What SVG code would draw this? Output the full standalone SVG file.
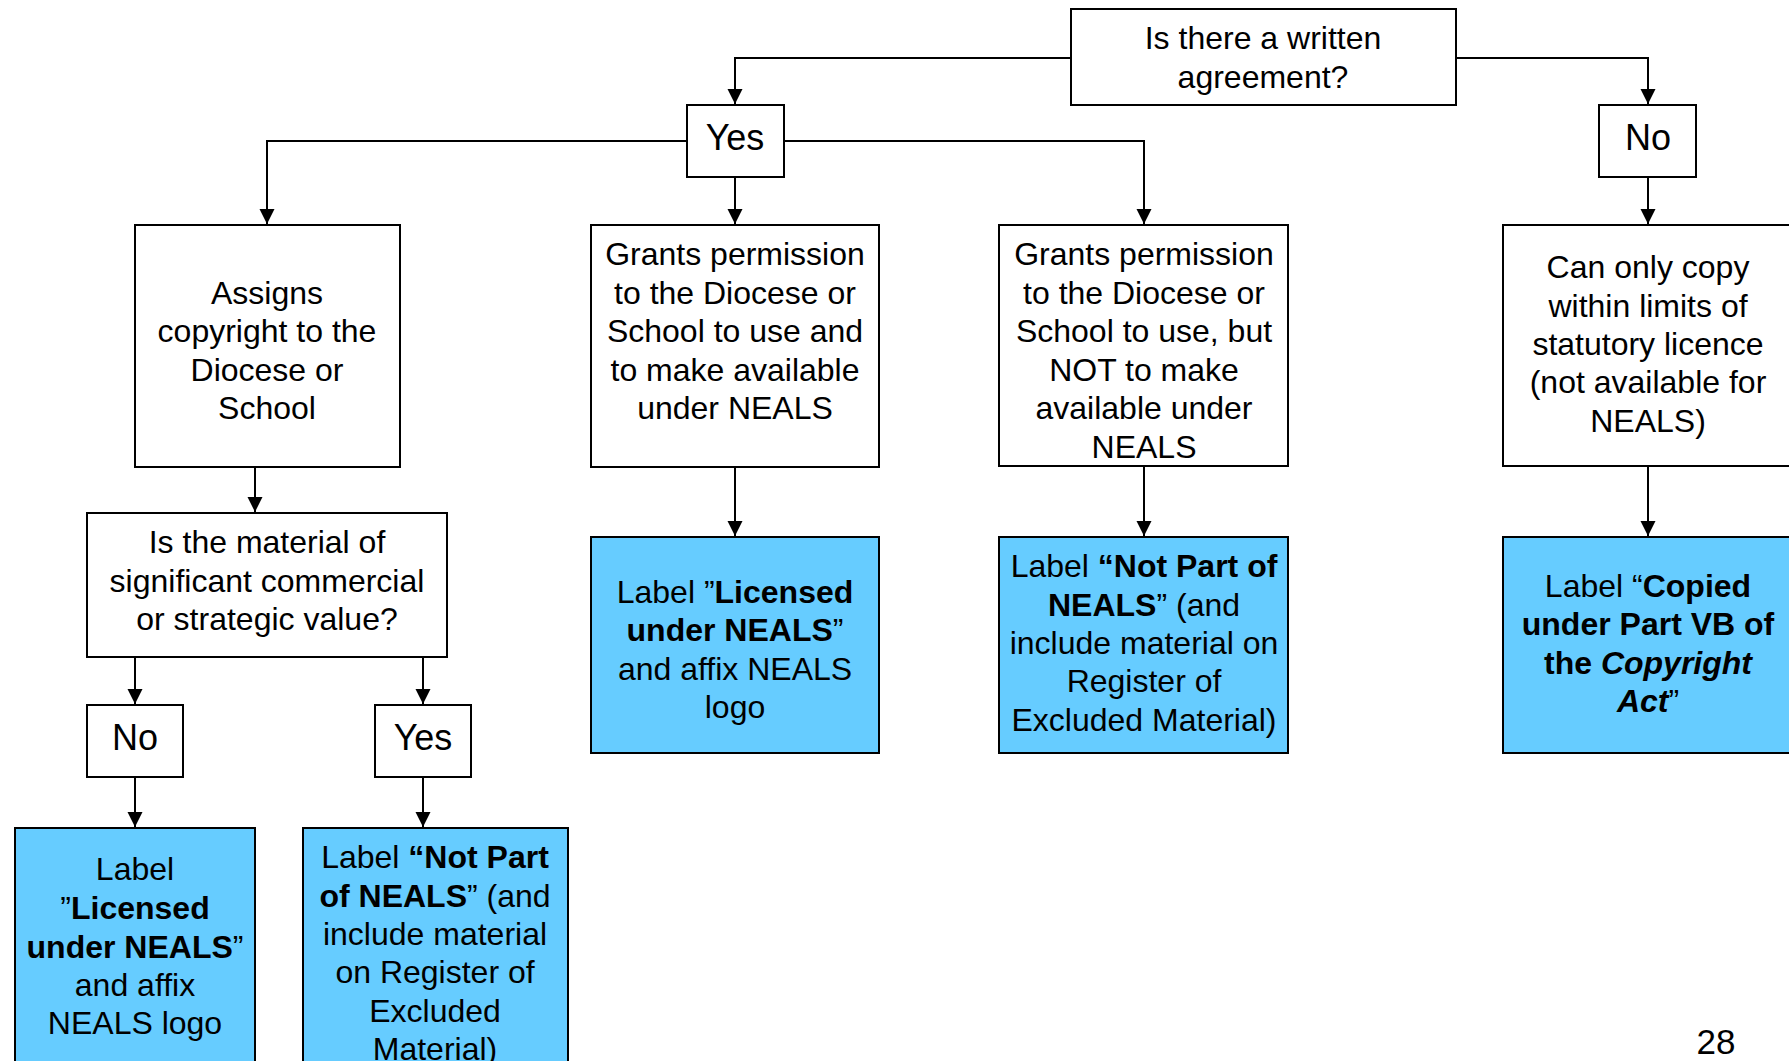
<svg xmlns="http://www.w3.org/2000/svg" width="1789" height="1061" viewBox="0 0 1789 1061">
<style>
.box{fill:#ffffff;stroke:#000000;stroke-width:2}
.blue{fill:#66CCFF;stroke:#000000;stroke-width:2}
.t{font-family:"Liberation Sans",Arial,sans-serif;font-size:32px;fill:#000000;text-anchor:middle}
.big{font-size:36px}
.b{font-weight:bold}
.bi{font-weight:bold;font-style:italic}
.c{fill:none;stroke:#000000;stroke-width:2}
</style>
<defs>
<marker id="arr" markerUnits="userSpaceOnUse" markerWidth="16" markerHeight="16" viewBox="0 0 16 16" refX="15" refY="8" orient="auto">
<path d="M0,0.5 L15,8 L0,15.5 Z" fill="#000000"/>
</marker>
</defs>
<rect width="1789" height="1061" fill="#ffffff"/>
<g id="connectors">
<path class="c" d="M1071,58 H735 V104" marker-end="url(#arr)"/>
<path class="c" d="M1456,58 H1648 V104" marker-end="url(#arr)"/>
<path class="c" d="M687,141 H267 V224" marker-end="url(#arr)"/>
<path class="c" d="M784,141 H1144 V224" marker-end="url(#arr)"/>
<path class="c" d="M735,177 V224" marker-end="url(#arr)"/>
<path class="c" d="M1648,177 V224" marker-end="url(#arr)"/>
<path class="c" d="M255,467 V512" marker-end="url(#arr)"/>
<path class="c" d="M135,657 V704" marker-end="url(#arr)"/>
<path class="c" d="M423,657 V704" marker-end="url(#arr)"/>
<path class="c" d="M135,777 V827" marker-end="url(#arr)"/>
<path class="c" d="M423,777 V827" marker-end="url(#arr)"/>
<path class="c" d="M735,467 V536" marker-end="url(#arr)"/>
<path class="c" d="M1144,466 V536" marker-end="url(#arr)"/>
<path class="c" d="M1648,466 V536" marker-end="url(#arr)"/>
</g>
<g id="n-written">
<rect class="box" x="1071" y="9" width="385" height="96"/>
<text class="t"><tspan x="1263" y="49">Is there a written</tspan><tspan x="1263" y="88">agreement?</tspan></text>
</g>
<g id="n-yes">
<rect class="box" x="687" y="105" width="97" height="72"/>
<text class="t big" x="735" y="150">Yes</text>
</g>
<g id="n-no">
<rect class="box" x="1599" y="105" width="97" height="72"/>
<text class="t big" x="1648" y="150">No</text>
</g>
<g id="n-assigns">
<rect class="box" x="135" y="225" width="265" height="242"/>
<text class="t"><tspan x="267" y="304">Assigns</tspan><tspan x="267" y="342">copyright to the</tspan><tspan x="267" y="381">Diocese or</tspan><tspan x="267" y="419">School</tspan></text>
</g>
<g id="n-grants1">
<rect class="box" x="591" y="225" width="288" height="242"/>
<text class="t"><tspan x="735" y="265">Grants permission</tspan><tspan x="735" y="304">to the Diocese or</tspan><tspan x="735" y="342">School to use and</tspan><tspan x="735" y="381">to make available</tspan><tspan x="735" y="419">under NEALS</tspan></text>
</g>
<g id="n-grants2">
<rect class="box" x="999" y="225" width="289" height="241"/>
<text class="t"><tspan x="1144" y="265">Grants permission</tspan><tspan x="1144" y="304">to the Diocese or</tspan><tspan x="1144" y="342">School to use, but</tspan><tspan x="1144" y="381">NOT to make</tspan><tspan x="1144" y="419">available under</tspan><tspan x="1144" y="458">NEALS</tspan></text>
</g>
<g id="n-copy">
<rect class="box" x="1503" y="225" width="292" height="241"/>
<text class="t"><tspan x="1648" y="278">Can only copy</tspan><tspan x="1648" y="317">within limits of</tspan><tspan x="1648" y="355">statutory licence</tspan><tspan x="1648" y="393">(not available for</tspan><tspan x="1648" y="432">NEALS)</tspan></text>
</g>
<g id="n-material">
<rect class="box" x="87" y="513" width="360" height="144"/>
<text class="t"><tspan x="267" y="553">Is the material of</tspan><tspan x="267" y="592">significant commercial</tspan><tspan x="267" y="630">or strategic value?</tspan></text>
</g>
<g id="n-no2">
<rect class="box" x="87" y="705" width="96" height="72"/>
<text class="t big" x="135" y="750">No</text>
</g>
<g id="n-yes2">
<rect class="box" x="375" y="705" width="96" height="72"/>
<text class="t big" x="423" y="750">Yes</text>
</g>
<g id="n-label-licensed-left">
<rect class="blue" x="15" y="828" width="240" height="240"/>
<text class="t"><tspan x="135" y="880">Label</tspan><tspan x="135" y="919">”<tspan class="b">Licensed</tspan></tspan><tspan x="135" y="958"><tspan class="b">under NEALS</tspan>”</tspan><tspan x="135" y="996">and affix</tspan><tspan x="135" y="1034">NEALS logo</tspan></text>
</g>
<g id="n-label-notpart-left">
<rect class="blue" x="303" y="828" width="265" height="240"/>
<text class="t"><tspan x="435" y="868">Label <tspan class="b">“Not Part</tspan></tspan><tspan x="435" y="907"><tspan class="b">of NEALS</tspan>” (and</tspan><tspan x="435" y="945">include material</tspan><tspan x="435" y="983">on Register of</tspan><tspan x="435" y="1022">Excluded</tspan><tspan x="435" y="1060">Material)</tspan></text>
</g>
<g id="n-label-licensed">
<rect class="blue" x="591" y="537" width="288" height="216"/>
<text class="t"><tspan x="735" y="603">Label ”<tspan class="b">Licensed</tspan></tspan><tspan x="735" y="641"><tspan class="b">under NEALS</tspan>”</tspan><tspan x="735" y="680">and affix NEALS</tspan><tspan x="735" y="718">logo</tspan></text>
</g>
<g id="n-label-notpart">
<rect class="blue" x="999" y="537" width="289" height="216"/>
<text class="t"><tspan x="1144" y="577">Label <tspan class="b">“Not Part of</tspan></tspan><tspan x="1144" y="616"><tspan class="b">NEALS</tspan>” (and</tspan><tspan x="1144" y="654">include material on</tspan><tspan x="1144" y="692">Register of</tspan><tspan x="1144" y="731">Excluded Material)</tspan></text>
</g>
<g id="n-label-copied">
<rect class="blue" x="1503" y="537" width="292" height="216"/>
<text class="t"><tspan x="1648" y="597">Label “<tspan class="b">Copied</tspan></tspan><tspan x="1648" y="635" class="b">under Part VB of</tspan><tspan x="1648" y="674"><tspan class="b">the </tspan><tspan class="bi">Copyright</tspan></tspan><tspan x="1648" y="712"><tspan class="bi">Act</tspan>”</tspan></text>
</g>
<text class="t" x="1716" y="1054" style="font-size:35px">28</text>
</svg>
